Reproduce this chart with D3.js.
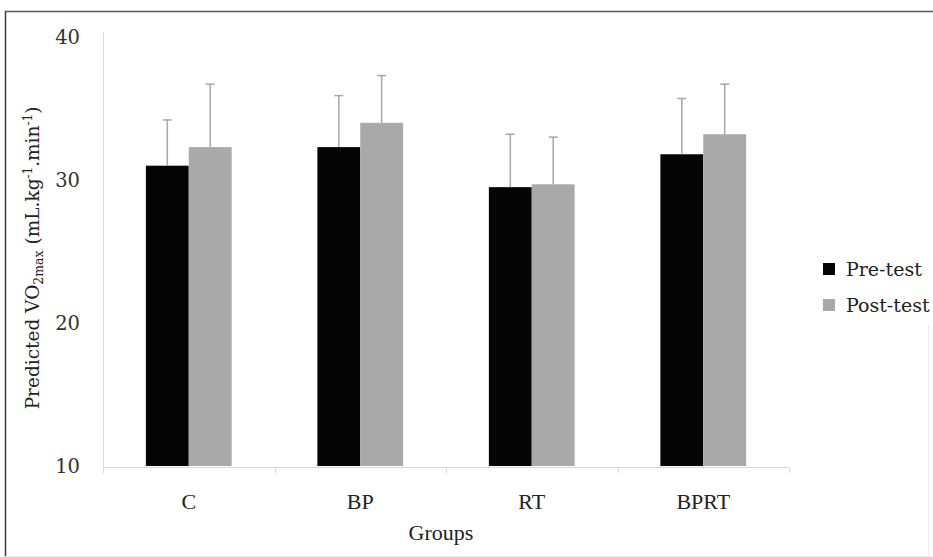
<!DOCTYPE html>
<html>
<head>
<meta charset="utf-8">
<script src="https://cdn.jsdelivr.net/npm/d3@7"></script>
<style>
  body { margin: 0; background: #fff; }
  svg { display: block; }
</style>
</head>
<body>
<div id="chart"></div>
<script>
(function(){
	"use strict";

	// values
	var groups = ["C", "BP", "RT", "BPRT"];
	var series = ["Pre-test", "Post-test"];
	var preMean = [31.0, 32.3, 29.5, 31.8];
	var postMean = [32.3, 34.0, 29.7, 33.2];
	var preSD = [3.2, 3.6, 3.7, 3.9];
	var postSD = [4.4, 3.3, 3.3, 3.5];
	var yTicks = [10, 20, 30, 40];

	var width = 933, height = 557;
	var colors = {"Pre-test": "#050505", "Post-test": "#a9a9a9"};
	var errColor = "#a6a6a6";
	var serif = "'DejaVu Serif', serif";
	var serif2 = "'Liberation Serif', serif";

	// build rows for drawing
	var rows = [];
	groups.forEach(function(g, i){
		rows.push({group: g, series: "Pre-test", mean: preMean[i], sd: preSD[i]});
		rows.push({group: g, series: "Post-test", mean: postMean[i], sd: postSD[i]});
	});

	var svg = d3.select("#chart").append("svg")
		.attr("width", width)
		.attr("height", height);

	// frame lines round the picture
	svg.append("line").attr("x1", 5).attr("x2", width).attr("y1", 11.5).attr("y2", 11.5)
		.attr("stroke", "#5a5a5a").attr("stroke-width", 1.5);
	svg.append("line").attr("x1", 5.5).attr("x2", 5.5).attr("y1", 11).attr("y2", height)
		.attr("stroke", "#3a3a3a").attr("stroke-width", 1.5);
	svg.append("line").attr("x1", 5).attr("x2", width).attr("y1", 556.5).attr("y2", 556.5)
		.attr("stroke", "#ececec").attr("stroke-width", 1);
	svg.append("line").attr("x1", 928.5).attr("x2", 928.5).attr("y1", 325).attr("y2", height)
		.attr("stroke", "#ececec").attr("stroke-width", 1);

	var xScale = d3.scaleBand()
		.domain(groups)
		.range([103, 789])
		.paddingInner(0.5)
		.paddingOuter(0.25);

	var xSub = d3.scaleBand()
		.domain(series)
		.range([0, xScale.bandwidth()]);

	var yScale = d3.scaleLinear()
		.domain([10, 40])
		.range([466, 37]);

	// y axis: labels only, line drawn by hand
	var yAxis = d3.axisLeft(yScale)
		.tickValues(yTicks)
		.tickSize(0)
		.tickPadding(23)
		.tickFormat(d3.format("d"));

	var gy = svg.append("g")
		.attr("transform", "translate(103,0)")
		.call(yAxis);
	gy.select(".domain").remove();
	gy.selectAll("text")
		.attr("font-family", serif)
		.attr("font-size", 19.5)
		.attr("fill", "#333");

	svg.append("line")
		.attr("x1", 103.5).attr("x2", 103.5)
		.attr("y1", yScale(40) - 5).attr("y2", 467.5)
		.attr("stroke", "#d9d9d9").attr("stroke-width", 1);

	// x axis: labels under band centres, ticks on the band edges
	var xAxis = d3.axisBottom(xScale)
		.tickSize(0)
		.tickPadding(26);

	var gx = svg.append("g")
		.attr("transform", "translate(0,467.5)")
		.call(xAxis);
	gx.select(".domain").remove();
	gx.selectAll("text")
		.attr("font-family", serif2)
		.attr("font-size", 22)
		.attr("fill", "#222");

	svg.append("line")
		.attr("x1", xScale.range()[0]).attr("x2", xScale.range()[1])
		.attr("y1", 467.5).attr("y2", 467.5)
		.attr("stroke", "#d9d9d9");

	var edges = groups.map(function(g){ return xScale(g) - xScale.step() * 0.25; });
	edges.push(xScale.range()[1]);
	svg.selectAll(".edgetick")
		.data(edges)
		.enter()
		.append("line")
		.attr("class", "edgetick")
		.attr("x1", function(d){ return Math.round(d) + 0.5; })
		.attr("x2", function(d){ return Math.round(d) + 0.5; })
		.attr("y1", 467.5).attr("y2", 473)
		.attr("stroke", "#d9d9d9");

	// bars
	svg.selectAll(".bar")
		.data(rows)
		.enter()
		.append("rect")
		.attr("class", "bar")
		.attr("x", function(d){ return xScale(d.group) + xSub(d.series); })
		.attr("width", xSub.bandwidth())
		.attr("y", function(d){ return yScale(d.mean); })
		.attr("height", function(d){ return yScale(10) - yScale(d.mean); })
		.attr("fill", function(d){ return colors[d.series]; });

	// error bars (upper half only)
	var err = svg.selectAll(".err")
		.data(rows)
		.enter()
		.append("g")
		.attr("class", "err")
		.attr("stroke", errColor)
		.attr("stroke-width", 1.5);

	err.append("line")
		.attr("x1", function(d){ return xScale(d.group) + xSub(d.series) + xSub.bandwidth() / 2; })
		.attr("x2", function(d){ return xScale(d.group) + xSub(d.series) + xSub.bandwidth() / 2; })
		.attr("y1", function(d){ return yScale(d.mean); })
		.attr("y2", function(d){ return yScale(d.mean + d.sd); });

	err.append("line")
		.attr("x1", function(d){ return xScale(d.group) + xSub(d.series) + xSub.bandwidth() / 2 - 4.5; })
		.attr("x2", function(d){ return xScale(d.group) + xSub(d.series) + xSub.bandwidth() / 2 + 4.5; })
		.attr("y1", function(d){ return yScale(d.mean + d.sd); })
		.attr("y2", function(d){ return yScale(d.mean + d.sd); });

	// axis titles
	svg.append("text")
		.attr("text-anchor", "middle")
		.attr("x", (xScale.range()[0] + xScale.range()[1]) / 2 - 5)
		.attr("y", 540)
		.attr("font-family", serif2)
		.attr("font-size", 22)
		.attr("fill", "#222")
		.text("Groups");

	var yt = svg.append("text")
		.attr("text-anchor", "middle")
		.attr("transform", "translate(39,258)rotate(-90)")
		.attr("font-family", serif)
		.attr("font-size", 18.5)
		.attr("fill", "#222");
	yt.append("tspan").text("Predicted VO");
	yt.append("tspan").attr("font-size", 12.5).attr("dy", 4).text("2max");
	yt.append("tspan").attr("dy", -4).text(" (mL.kg");
	yt.append("tspan").attr("font-size", 12).attr("dy", -7).text("-1");
	yt.append("tspan").attr("dy", 7).text(".min");
	yt.append("tspan").attr("font-size", 12).attr("dy", -7).text("-1");
	yt.append("tspan").attr("dy", 7).text(")");

	// legend
	var legend = svg.selectAll(".legend")
		.data(series)
		.enter()
		.append("g")
		.attr("class", "legend")
		.attr("transform", function(d, i){ return "translate(823," + (263 + i * 36) + ")"; });

	legend.append("rect")
		.attr("width", 12).attr("height", 12)
		.attr("fill", function(d){ return colors[d]; });

	legend.append("text")
		.attr("x", 23)
		.attr("y", 13)
		.attr("font-family", serif)
		.attr("font-size", 19)
		.attr("fill", "#222")
		.text(function(d){ return d; });

})();
</script>
</body>
</html>
